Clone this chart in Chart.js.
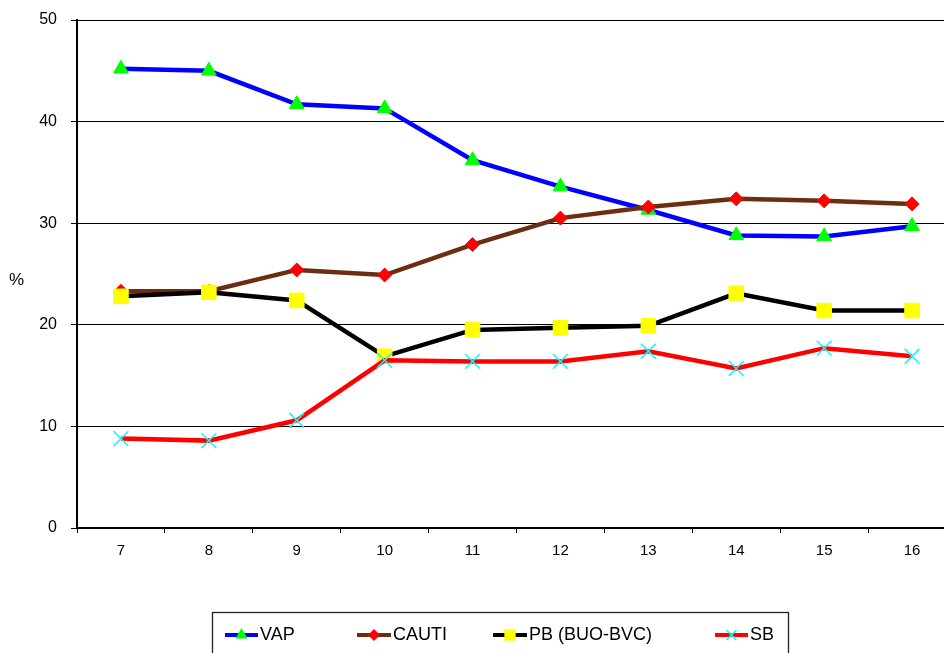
<!DOCTYPE html>
<html>
<head>
<meta charset="utf-8">
<script src="https://cdn.jsdelivr.net/npm/chart.js@4/dist/chart.umd.min.js"></script>
<style>
html,body{margin:0;padding:0;overflow:hidden;background:#fff;width:944px;height:653px;}
#wrap{width:968px;height:653px;}
</style>
</head>
<body>
<div id="wrap"><canvas id="c" width="968" height="653"></canvas></div>
<script>
const categories = ['7','8','9','10','11','12','13','14','15','16'];
const vap   = [45.2, 45.0, 41.7, 41.3, 36.2, 33.6, 31.3, 28.8, 28.7, 29.7];
const cauti = [23.3, 23.3, 25.4, 24.9, 27.9, 30.5, 31.6, 32.4, 32.2, 31.9];
const pb    = [22.8, 23.2, 22.4, 16.9, 19.5, 19.7, 19.9, 23.1, 21.4, 21.4];
const sb    = [8.8, 8.6, 10.6, 16.5, 16.4, 16.4, 17.4, 15.7, 17.7, 16.9];
const seriesLabels = ['VAP', 'CAUTI', 'PB (BUO-BVC)', 'SB'];
const yTicks = [0, 10, 20, 30, 40, 50];
const yAxisLabel = '%';

const FONT = '"Liberation Sans", Arial, sans-serif';

function drawMarker(ctx, style, x, y, r, fill, stroke, bw) {
  ctx.save();
  ctx.fillStyle = fill; ctx.strokeStyle = stroke; ctx.lineWidth = bw;
  ctx.beginPath();
  if (style === 'triangle') {
    ctx.moveTo(x, y - r);
    ctx.lineTo(x + r * 0.866, y + r * 0.5);
    ctx.lineTo(x - r * 0.866, y + r * 0.5);
    ctx.closePath(); ctx.fill();
  } else if (style === 'rectRot') {
    ctx.moveTo(x, y - r); ctx.lineTo(x + r, y); ctx.lineTo(x, y + r); ctx.lineTo(x - r, y);
    ctx.closePath(); ctx.fill();
  } else if (style === 'rect') {
    const s = r * Math.SQRT1_2;
    ctx.rect(x - s, y - s, 2 * s, 2 * s); ctx.fill();
  } else if (style === 'crossRot') {
    const s = r * Math.SQRT1_2;
    ctx.moveTo(x - s, y - s); ctx.lineTo(x + s, y + s);
    ctx.moveTo(x - s, y + s); ctx.lineTo(x + s, y - s);
    ctx.stroke();
  }
  ctx.restore();
}

const legendPlugin = {
  id: 'customLegend',
  afterDraw(chart) {
    const ctx = chart.ctx;
    ctx.save();
    ctx.strokeStyle = '#222'; ctx.lineWidth = 1.3;
    ctx.strokeRect(212.5, 612.5, 576, 60);
    const y = 635;
    const items = [[225, 258, 260, 7], [357, 391, 393, 6], [493, 527, 529, 8], [715, 748, 750, 7]];
    chart.data.datasets.forEach((ds, i) => {
      const [x1, x2, tx, r] = items[i];
      ctx.strokeStyle = ds.borderColor; ctx.lineWidth = 4; ctx.lineCap = 'butt';
      ctx.beginPath(); ctx.moveTo(x1, y); ctx.lineTo(x2, y); ctx.stroke();
      drawMarker(ctx, ds.pointStyle, (x1 + x2) / 2, y, r, ds.pointBackgroundColor, ds.pointBorderColor, 1.5);
      ctx.fillStyle = '#000'; ctx.font = '18px ' + FONT;
      ctx.textBaseline = 'middle'; ctx.textAlign = 'left';
      ctx.fillText(ds.label, tx, y);
    });
    ctx.font = '17px ' + FONT; ctx.textAlign = 'center'; ctx.textBaseline = 'middle';
    ctx.fillStyle = '#000';
    ctx.fillText(yAxisLabel, 16.5, 280);
    ctx.restore();
  }
};

const ds = (label, data, color, style, bg, bc, radius, order, bw) => ({
  label, data, borderColor: color, borderWidth: 4.5, tension: 0, fill: false,
  pointStyle: style, pointRadius: radius, pointHoverRadius: radius,
  pointBackgroundColor: bg, pointBorderColor: bc, pointBorderWidth: bw, order
});

new Chart(document.getElementById('c'), {
  type: 'line',
  data: {
    labels: categories,
    datasets: [
      ds(seriesLabels[0], vap, '#0000FF', 'triangle', '#00FF00', '#00FF00', 8.5, 3, 1),
      ds(seriesLabels[1], cauti, '#6B2E12', 'rectRot', '#FF0000', '#FF0000', 7, 2, 1),
      ds(seriesLabels[2], pb, '#000000', 'rect', '#FFFF00', '#FFFF00', 10.3, 1, 1),
      ds(seriesLabels[3], sb, '#FF0000', 'crossRot', '#00FFFF', '#00FFFF', 10.5, 0, 1.5)
    ]
  },
  options: {
    responsive: false,
    animation: false,
    events: [],
    layout: { padding: { top: 20, right: 3, left: 0, bottom: 0 } },
    plugins: { legend: { display: false }, tooltip: { enabled: false } },
    scales: {
      x: {
        offset: true,
        grid: { offset: true, drawOnChartArea: false, drawTicks: true, tickLength: 5, color: '#000', lineWidth: 1 },
        border: { color: '#000', width: 2 },
        ticks: { color: '#000', font: { family: FONT, size: 15 }, padding: 9, maxRotation: 0 },
        afterFit(s) { s.height = 125; s.paddingLeft = 0; s.paddingRight = 0; }
      },
      y: {
        min: 0, max: 50,
        afterBuildTicks(s) { s.ticks = yTicks.map(v => ({ value: v })); },
        ticks: { color: '#000', font: { family: FONT, size: 16 }, padding: 14 },
        grid: { color: '#000', lineWidth: 1, tickLength: 6, drawTicks: true },
        border: { color: '#000', width: 2 },
        afterFit(s) { s.width = 77; s.paddingTop = 0; s.paddingBottom = 0; }
      }
    }
  },
  plugins: [legendPlugin]
});
</script>
</body>
</html>
